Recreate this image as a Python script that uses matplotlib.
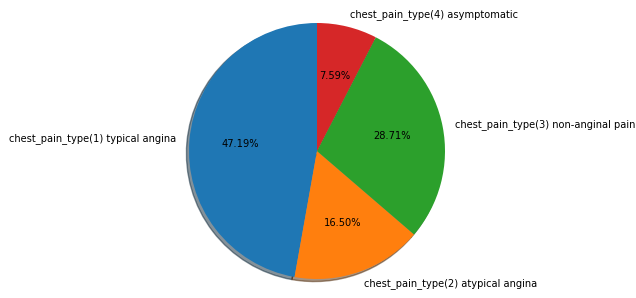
import matplotlib
matplotlib.use("Agg")
import matplotlib.pyplot as plt

labels = ["chest_pain_type(1) typical angina",
          "chest_pain_type(2) atypical angina",
          "chest_pain_type(3) non-anginal pain",
          "chest_pain_type(4) asymptomatic"]
counts = [143, 50, 87, 23]

W, H = 636, 298
cx, cy, r = 317, 151, 128

fig = plt.figure(figsize=(W / 100, H / 100), dpi=100)
ax = fig.add_axes([(cx - r) / W, (H - cy - r) / H, 2 * r / W, 2 * r / H])
wedges, texts, autotexts = ax.pie(counts, labels=labels, autopct="%1.2f%%",
                                  shadow={"ox": -0.0144, "oy": -0.0144},
                                  startangle=90,
                                  textprops={"fontsize": 7.1})
for w in ax.patches:
    w.set_clip_on(False)
ax.set_xlim(-1, 1)
ax.set_ylim(-1, 1)
ax.axis("off")

fig.savefig("out.png", dpi=100)
